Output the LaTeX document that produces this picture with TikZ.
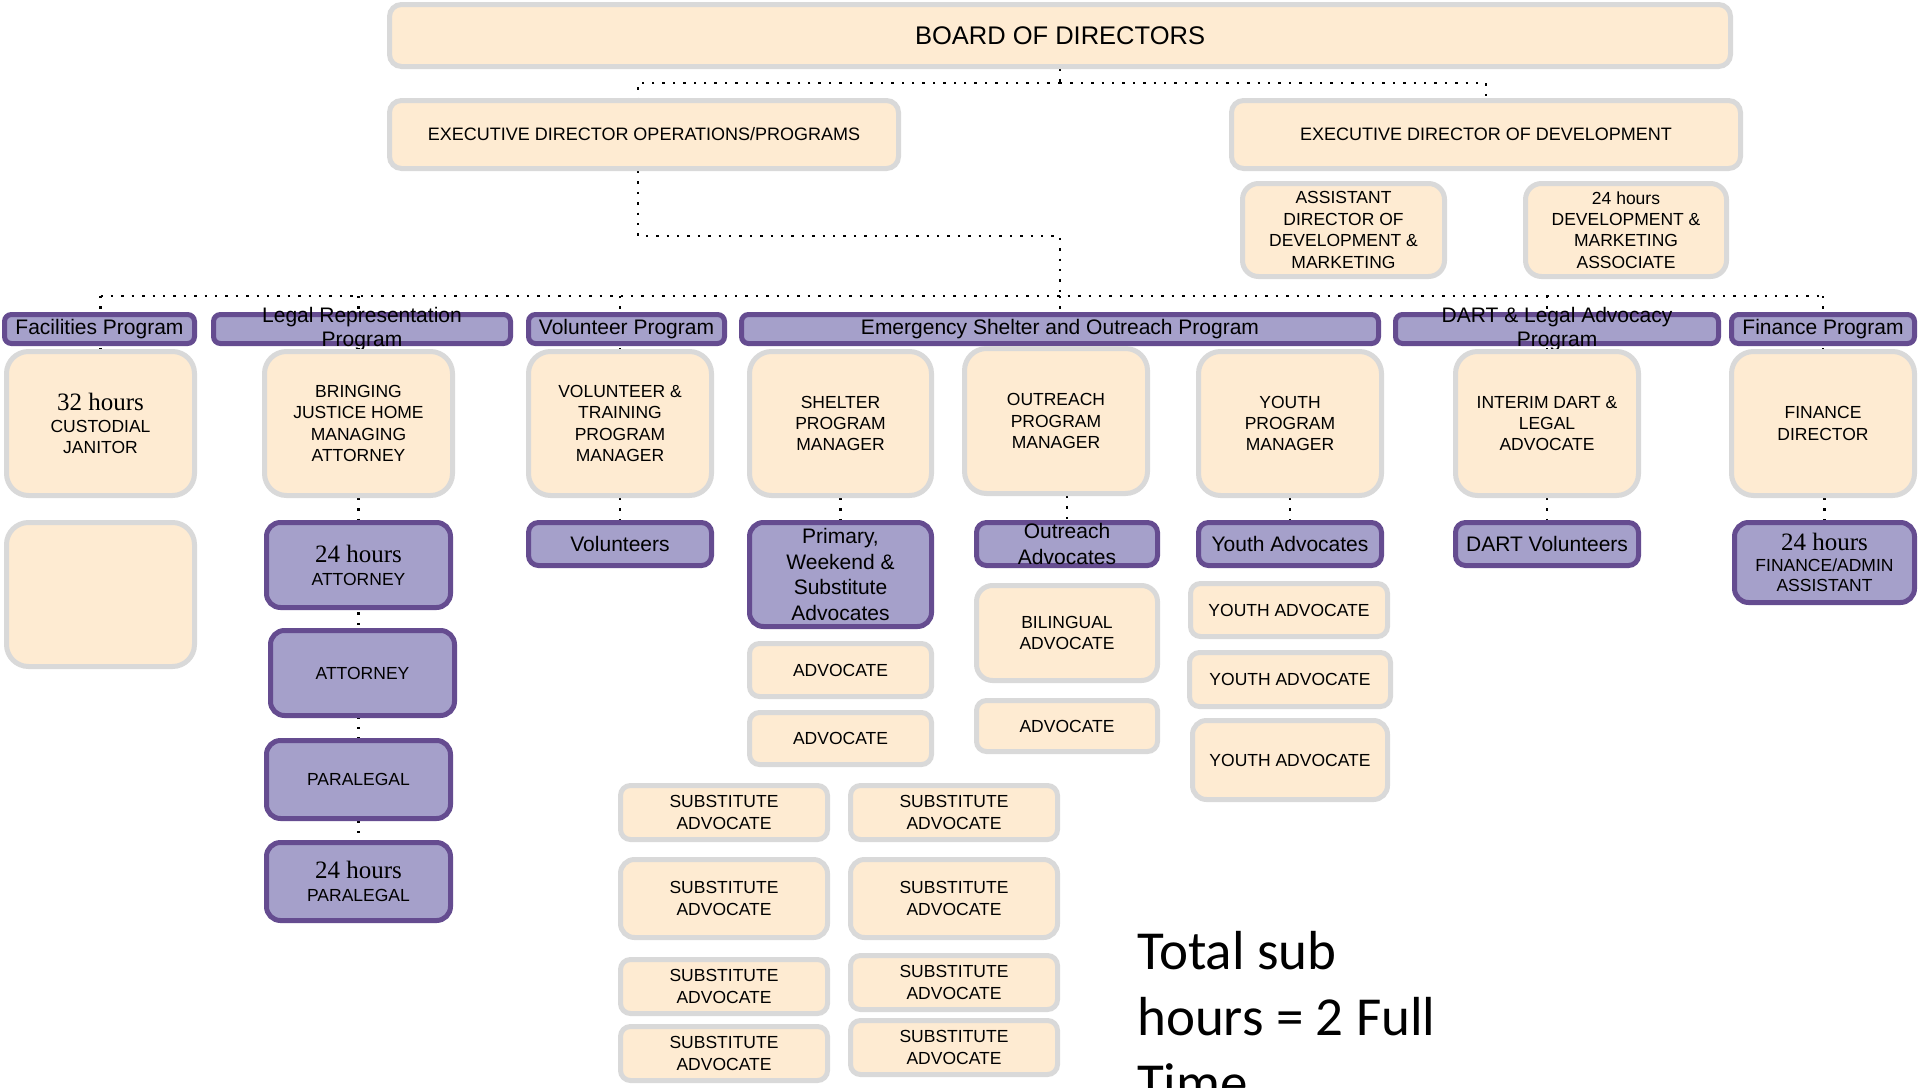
\documentclass[tikz,border=0pt]{standalone}
\usepackage{fontspec}
\setmainfont{Liberation Sans}
\newfontfamily\serifh{Liberation Serif}
\newfontfamily\calib{Carlito}
\definecolor{creamc}{HTML}{FEEBD2}
\definecolor{greyc}{HTML}{D9D9D9}
\definecolor{purpf}{HTML}{A5A0CA}
\definecolor{purpd}{HTML}{654C90}
\newcommand\fs[2]{\fontsize{#1}{#2}\selectfont}
\newcommand\hrsA{{\serifh\fs{25}{26}24 hours}}
\newcommand\hrsB{{\serifh\fs{25}{26}32 hours}}
\newcommand\mybox[8][]{\node[#3,#1, minimum width={(#6)-(#4)-5}, minimum height={(#7)-(#5)-5}] (#2) at ({((#4)+(#6))/2},{((#5)+(#7))/2}) {#8};}
\pgfdeclarelayer{bg}
\pgfdeclarelayer{conn}
\pgfsetlayers{bg,conn,main}
\begin{document}
\begin{tikzpicture}[x=1pt,y=-1pt,
  every node/.style={inner sep=0pt, align=center},
  creambox/.style={draw=greyc, fill=creamc, line width=5pt, rounded corners=10pt, font=\fs{17.5}{21.4}},
  purpbox/.style={draw=purpd, fill=purpf, line width=5pt, rounded corners=14pt, font=\fs{21}{25.7}},
  hdrbox/.style={purpbox, rounded corners=7pt},
  bigc/.style={rounded corners=22pt},
  dots/.style={line width=2.4pt, dash pattern=on 2.4pt off 8pt}]
\useasboundingbox (0,0) rectangle (1919,1087);
\begin{pgfonlayer}{bg}
\fill[white] (0,0) rectangle (1919,1087);
\end{pgfonlayer}
% top
\mybox[rounded corners=12pt,font=\fs{25.5}{30}]{board}{creambox}{387}{2}{1733}{69}{BOARD OF DIRECTORS}
\mybox[rounded corners=12pt,font=\fs{18}{22}]{edo}{creambox}{387}{98}{901}{171}{EXECUTIVE DIRECTOR OPERATIONS/PROGRAMS}
\mybox[rounded corners=12pt,font=\fs{18}{22}]{edd}{creambox}{1229}{98}{1743}{171}{EXECUTIVE DIRECTOR OF DEVELOPMENT}
\mybox[rounded corners=16pt]{asst}{creambox}{1240}{181}{1447}{279}{ASSISTANT\\DIRECTOR OF\\DEVELOPMENT \&\\MARKETING}
\mybox[rounded corners=16pt]{assoc}{creambox}{1523}{181}{1729}{279}{24 hours\\DEVELOPMENT \&\\MARKETING\\ASSOCIATE}
% program headers
\mybox{hfac}{hdrbox}{2}{312}{197}{346}{Facilities Program}
\mybox[label={[font=\fs{21}{24.5}]center:Legal Representation\\Program}]{hleg}{hdrbox}{211}{312}{513}{346}{}
\mybox{hvol}{hdrbox}{526}{312}{727}{346}{Volunteer Program}
\mybox{hemg}{hdrbox}{739}{312}{1381}{346}{Emergency Shelter and Outreach Program}
\mybox[label={[font=\fs{21}{24.5}]center:DART \& Legal Advocacy\\Program}]{hdart}{hdrbox}{1393}{312}{1721}{346}{}
\mybox{hfin}{hdrbox}{1729}{312}{1917}{346}{Finance Program}
% level 1
\mybox[bigc]{fac1}{creambox}{4}{349}{197}{498}{\hrsB\\CUSTODIAL\\JANITOR}
\mybox[bigc]{bjh}{creambox}{262}{349}{455}{498}{BRINGING\\JUSTICE HOME\\MANAGING\\ATTORNEY}
\mybox[bigc]{vtp}{creambox}{526}{349}{714}{498}{VOLUNTEER \&\\TRAINING\\PROGRAM\\MANAGER}
\mybox[bigc]{spm}{creambox}{747}{349}{934}{498}{SHELTER\\PROGRAM\\MANAGER}
\mybox[bigc]{opm}{creambox}{962}{346}{1150}{496}{OUTREACH\\PROGRAM\\MANAGER}
\mybox[bigc]{ypm}{creambox}{1196}{349}{1384}{498}{YOUTH\\PROGRAM\\MANAGER}
\mybox[bigc]{idla}{creambox}{1453}{349}{1641}{498}{INTERIM DART \&\\LEGAL\\ADVOCATE}
\mybox[bigc]{fdir}{creambox}{1729}{349}{1917}{498}{FINANCE\\DIRECTOR}
% level 2
\mybox[bigc]{fac2}{creambox}{4}{520}{197}{669}{}
\mybox[font=\fs{17.5}{23}]{att24}{purpbox}{264}{520}{453}{610}{\hrsA\\ATTORNEY}
\mybox[font=\fs{17.5}{21}]{att}{purpbox}{268}{628}{457}{718}{ATTORNEY}
\mybox[font=\fs{17.5}{21}]{par}{purpbox}{264}{738}{453}{821}{PARALEGAL}
\mybox[font=\fs{17.5}{23}]{par24}{purpbox}{264}{840}{453}{923}{\hrsA\\PARALEGAL}
\mybox[rounded corners=10pt]{vols}{purpbox}{526}{520}{714}{568}{Volunteers}
\mybox{prim}{purpbox}{747}{520}{934}{629}{Primary,\\Weekend \&\\Substitute\\Advocates}
\mybox{adv1}{creambox}{747}{641}{934}{699}{ADVOCATE}
\mybox{adv2}{creambox}{747}{710}{934}{767}{ADVOCATE}
\mybox[rounded corners=10pt,label={[font=\fs{21}{25.7}]center:Outreach\\Advocates}]{oadv}{purpbox}{974}{520}{1160}{568}{}
\mybox[rounded corners=16pt]{biling}{creambox}{974}{583}{1160}{683}{BILINGUAL\\ADVOCATE}
\mybox{adv3}{creambox}{974}{698}{1160}{754}{ADVOCATE}
\mybox[rounded corners=10pt]{yadv}{purpbox}{1196}{520}{1384}{568}{Youth Advocates}
\mybox{ya1}{creambox}{1188}{581}{1390}{639}{YOUTH ADVOCATE}
\mybox{ya2}{creambox}{1187}{650}{1393}{709}{YOUTH ADVOCATE}
\mybox[rounded corners=14pt]{ya3}{creambox}{1190}{718}{1390}{802}{YOUTH ADVOCATE}
\mybox[rounded corners=10pt]{dvol}{purpbox}{1453}{520}{1641}{568}{DART Volunteers}
\mybox[font=\fs{17.5}{20.5}]{fin2}{purpbox}{1732}{520}{1917}{605}{\hrsA\\FINANCE/ADMIN\\ASSISTANT}
% substitutes
\mybox{s1L}{creambox}{618}{783}{830}{842}{SUBSTITUTE\\ADVOCATE}
\mybox{s1R}{creambox}{848}{783}{1060}{842}{SUBSTITUTE\\ADVOCATE}
\mybox[rounded corners=14pt]{s2L}{creambox}{618}{857}{830}{940}{SUBSTITUTE\\ADVOCATE}
\mybox[rounded corners=14pt]{s2R}{creambox}{848}{857}{1060}{940}{SUBSTITUTE\\ADVOCATE}
\mybox{s3L}{creambox}{618}{957}{830}{1016}{SUBSTITUTE\\ADVOCATE}
\mybox{s3R}{creambox}{848}{953}{1060}{1012}{SUBSTITUTE\\ADVOCATE}
\mybox{s4L}{creambox}{618}{1024}{830}{1083}{SUBSTITUTE\\ADVOCATE}
\mybox{s4R}{creambox}{848}{1018}{1060}{1077}{SUBSTITUTE\\ADVOCATE}
% note
\node[anchor=north west, font=\calib\fs{55}{66}, align=left] (tot) at (1137,931) {Total sub\\hours = 2 Full\\Time};
% connectors
\begin{pgfonlayer}{conn}
\coordinate (bus1) at (1060,83);
\coordinate (bend2) at (638,236);
\coordinate (bus2) at (1060,296);
\draw[dots] (board.south) -- (bus1);
\draw[dots] (bus1) -| ([xshift=-6pt]edo.north);
\draw[dots] (bus1) -| (edd.north);
\draw[dots] ([xshift=-6pt]edo.south) -- (bend2) -| (bus2);
\draw[dots] (fac1.north |- bus2) -- (fdir.north |- bus2);
\foreach \n in {fac1,bjh,vtp,hemg,idla,fdir} \draw[dots] (\n.north |- bus2) -- (\n.north);
\draw[dots] (bjh.south) -- (par24.north);
\draw[dots] (vtp.south) -- (vols.north);
\draw[dots] (spm.south) -- (prim.north);
\draw[dots] (oadv.north |- opm.south) -- (oadv.north);
\draw[dots] (ypm.south) -- (yadv.north);
\draw[dots] (idla.south) -- (dvol.north);
\draw[dots] (fin2.north |- fdir.south) -- (fin2.north);
\end{pgfonlayer}
\end{tikzpicture}
\end{document}
